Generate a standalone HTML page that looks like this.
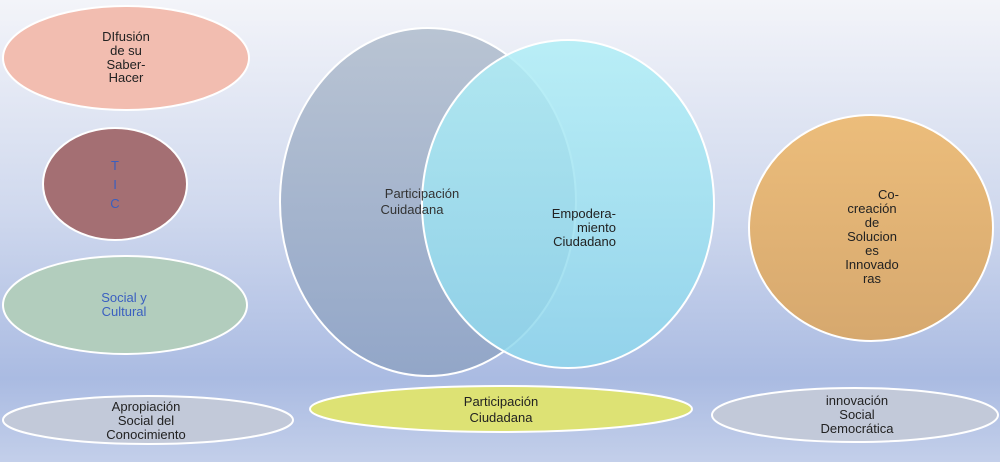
<!DOCTYPE html>
<html><head><style>
html,body{margin:0;padding:0;background:#fff;}
body{width:1004px;height:466px;overflow:hidden;}
text{font-family:"Liberation Sans",sans-serif;font-size:13px;}
</style></head><body>
<svg width="1004" height="466" xmlns="http://www.w3.org/2000/svg">
<defs>
<linearGradient id="bg" x1="0" y1="0" x2="0" y2="1">
<stop offset="0" stop-color="#f3f4f9"/>
<stop offset="0.45" stop-color="#d0d9ee"/>
<stop offset="0.82" stop-color="#aabbe2"/>
<stop offset="1" stop-color="#c3cfea"/>
</linearGradient>
<linearGradient id="lc" x1="0" y1="0" x2="0" y2="1">
<stop offset="0" stop-color="#b9c4d3"/>
<stop offset="1" stop-color="#92a6c8"/>
</linearGradient>
<linearGradient id="rc" x1="0" y1="0" x2="0" y2="1">
<stop offset="0" stop-color="#b0eef6"/>
<stop offset="1" stop-color="#8ed6ec"/>
</linearGradient>
<linearGradient id="oc" x1="0" y1="0" x2="0" y2="1">
<stop offset="0" stop-color="#ecbd7b"/>
<stop offset="1" stop-color="#d6a86e"/>
</linearGradient>
</defs>
<rect x="0" y="0" width="1000" height="462" fill="url(#bg)"/>
<g stroke="#fff" stroke-width="2">
<ellipse cx="126" cy="58" rx="123" ry="52" fill="#f2bdb0"/>
<ellipse cx="115" cy="184" rx="72" ry="56" fill="#a46f73"/>
<ellipse cx="125" cy="305" rx="122" ry="49" fill="#b2cdbd"/>
<ellipse cx="148" cy="420" rx="145" ry="24" fill="#c2c9d9"/>
<ellipse cx="428" cy="202" rx="148" ry="174" fill="url(#lc)"/>
<ellipse cx="568" cy="204" rx="146" ry="164" fill="url(#rc)" fill-opacity="0.85"/>
<ellipse cx="501" cy="409" rx="191" ry="23" fill="#dde274"/>
<ellipse cx="871" cy="228" rx="122" ry="113" fill="url(#oc)"/>
<ellipse cx="855" cy="415" rx="143" ry="27" fill="#c2c9d9"/>
</g>
<g fill="#222" text-anchor="middle">
<text x="126" y="41">DIfusión</text>
<text x="126" y="55">de su</text>
<text x="126" y="69">Saber-</text>
<text x="126" y="82">Hacer</text>
<text x="115" y="170" fill="#3a5fc0">T</text>
<text x="115" y="189" fill="#3a5fc0">I</text>
<text x="115" y="208" fill="#3a5fc0">C</text>
<text x="124" y="302" fill="#3a5fc0">Social y</text>
<text x="124" y="316" fill="#3a5fc0">Cultural</text>
<text x="146" y="411">Apropiación</text>
<text x="146" y="425">Social del</text>
<text x="146" y="439">Conocimiento</text>
<text x="422" y="198" fill="#333">Participación</text>
<text x="412" y="214" fill="#333">Cuidadana</text>
<text x="578" y="218" text-anchor="end" x-="0"> </text>
<text x="616" y="218" text-anchor="end">Empodera-</text>
<text x="616" y="232" text-anchor="end">miento</text>
<text x="616" y="246" text-anchor="end">Ciudadano</text>
<text x="501" y="406" font-size="14">Participación</text>
<text x="501" y="422" font-size="14">Ciudadana</text>
<text x="899" y="199" text-anchor="end">Co-</text>
<text x="872" y="213">creación</text>
<text x="872" y="227">de</text>
<text x="872" y="241">Solucion</text>
<text x="872" y="255">es</text>
<text x="872" y="269">Innovado</text>
<text x="872" y="283">ras</text>
<text x="857" y="405">innovación</text>
<text x="857" y="419">Social</text>
<text x="857" y="433">Democrática</text>
</g>
</svg>
</body></html>
